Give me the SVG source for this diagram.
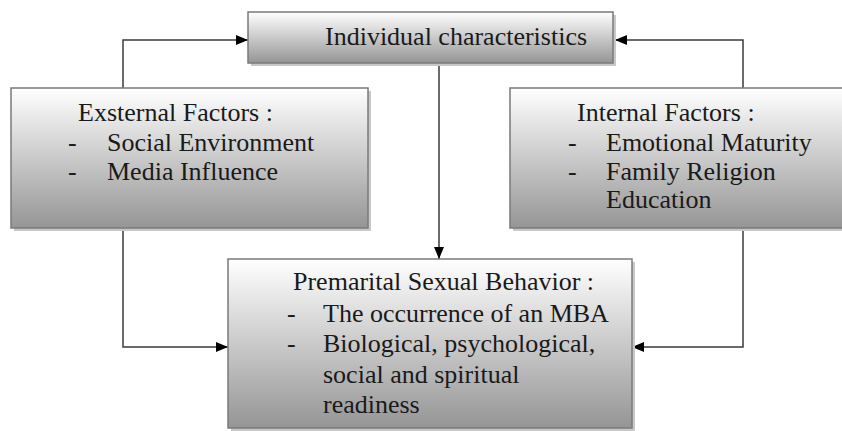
<svg xmlns="http://www.w3.org/2000/svg" width="842" height="431" viewBox="0 0 842 431">
<defs>
<linearGradient id="g" x1="0" y1="0" x2="0" y2="1">
<stop offset="0" stop-color="#ffffff"/>
<stop offset="1" stop-color="#959595"/>
</linearGradient>
<marker id="ah" viewBox="0 0 12 10" refX="12" refY="5" markerWidth="12" markerHeight="10" markerUnits="userSpaceOnUse" orient="auto">
<path d="M0,0 L12,5 L0,10 z" fill="#000"/>
</marker>
<style>
.box{fill:url(#g);stroke:#7a7a7a;stroke-width:1.5}
.shadow{fill:#c8c8c8}
.t{font-family:"Liberation Serif","Times New Roman",serif;font-size:26px;fill:#1a1a1a}
.c{fill:none;stroke:#3a3a3a;stroke-width:1.5}
</style>
</defs>
<rect width="842" height="431" fill="#fff"/>
<g id="connectors">
<path class="c" d="M123,88 V40 H248" marker-end="url(#ah)"/>
<path class="c" d="M743,88 V40 H615" marker-end="url(#ah)"/>
<path class="c" d="M439,64 V259" marker-end="url(#ah)"/>
<path class="c" d="M123,229 V347 H228" marker-end="url(#ah)"/>
<path class="c" d="M743,229 V347 H632" marker-end="url(#ah)"/>
</g>
<g id="individual">
<rect class="shadow" x="251" y="15" width="365" height="51"/>
<rect class="box" x="248" y="12" width="365" height="51"/>
<text class="t" x="325" y="45">Individual characteristics</text>
</g>
<g id="external">
<rect class="shadow" x="14" y="91" width="357" height="140"/>
<rect class="box" x="11" y="88" width="357" height="140"/>
<text class="t" x="78" y="121">Exsternal Factors :</text>
<text class="t" x="68" y="151">-</text>
<text class="t" x="107" y="151">Social Environment</text>
<text class="t" x="68" y="180">-</text>
<text class="t" x="107" y="180">Media Influence</text>
</g>
<g id="internal">
<rect class="shadow" x="513" y="91" width="332" height="140"/>
<rect class="box" x="510" y="88" width="335" height="140"/>
<text class="t" x="577" y="121">Internal Factors :</text>
<text class="t" x="568" y="151">-</text>
<text class="t" x="606" y="151">Emotional Maturity</text>
<text class="t" x="568" y="180">-</text>
<text class="t" x="606" y="180">Family Religion</text>
<text class="t" x="606" y="208">Education</text>
</g>
<g id="behavior">
<rect class="shadow" x="231" y="262" width="404" height="172"/>
<rect class="box" x="228" y="259" width="404" height="169"/>
<text class="t" x="293" y="290">Premarital Sexual Behavior :</text>
<text class="t" x="287" y="322">-</text>
<text class="t" x="323" y="322">The occurrence of an MBA</text>
<text class="t" x="287" y="352">-</text>
<text class="t" x="323" y="352">Biological, psychological,</text>
<text class="t" x="323" y="383">social and spiritual</text>
<text class="t" x="323" y="413">readiness</text>
</g>
</svg>
